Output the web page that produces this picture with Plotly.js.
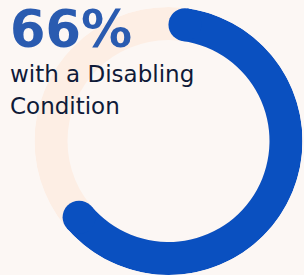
<!DOCTYPE html>
<html>
<head>
<meta charset="utf-8">
<script src="https://cdn.plot.ly/plotly-3.0.1.min.js"></script>
<style>
  html, body { margin: 0; padding: 0; background: #fcf7f4; }
  #chart { width: 304px; height: 275px; }
</style>
</head>
<body>
<div id="chart"></div>
<script>
// ---- data ----
const categories = ['With a Disabling Condition', 'Without a Disabling Condition'];
const shares = [66, 34];
const headline = '66%';
const captionLines = ['with a Disabling', 'Condition'];

// ---- styling / geometry ----
const W = 304, H = 275;
const outerR = 134, thick = 33, innerR = outerR - thick, midR = outerR - thick / 2;
const cx = 168.5;
const blue = '#0a50c0', peach = '#fdeee4', bg = '#fcf7f4';

const total = shares.reduce((a, b) => a + b, 0);
const spanDeg = shares[0] / total * 360;
const capDeg = (thick / 2) / midR * 180 / Math.PI;
const bodySpan = spanDeg - 2 * capDeg;

const traces = [
  { type: 'barpolar', name: categories[1], r: [thick], base: [innerR], theta: [180], width: [360],
    marker: { color: peach, line: { width: 0 } }, hoverinfo: 'skip' },
  { type: 'barpolar', name: categories[0], r: [thick], base: [innerR], theta: [capDeg + bodySpan / 2], width: [bodySpan],
    marker: { color: blue, line: { width: 0 } }, hoverinfo: 'skip' },
  { type: 'scatterpolar', mode: 'markers', name: categories[0] + ' caps', r: [midR, midR], theta: [capDeg, spanDeg - capDeg],
    marker: { color: blue, size: thick, line: { width: 0 } }, hoverinfo: 'skip' }
];

const captionY = [74, 106];
const annotations = [
  { text: '<b>' + headline + '</b>', xref: 'paper', yref: 'paper', x: 8 / W, y: 1 - 29 / H,
    xanchor: 'left', yanchor: 'middle', showarrow: false, align: 'left',
    font: { family: 'DejaVu Sans', size: 51, color: '#2a5bb0' } }
].concat(captionLines.map((t, i) => ({
    text: t, xref: 'paper', yref: 'paper', x: 8 / W, y: 1 - captionY[i] / H,
    xanchor: 'left', yanchor: 'middle', showarrow: false, align: 'left',
    font: { family: 'DejaVu Sans', size: 23, color: '#0f1a38' } })));

const layout = {
  width: W, height: H,
  margin: { l: 0, r: 0, t: 0, b: 0 },
  paper_bgcolor: bg, plot_bgcolor: bg,
  showlegend: false,
  polar: {
    domain: { x: [(cx - outerR) / W, (cx + outerR) / W], y: [0, (2 * outerR) / H] },
    bgcolor: 'rgba(0,0,0,0)',
    radialaxis: { range: [0, outerR], visible: false, showgrid: false, showline: false, ticks: '' },
    angularaxis: { visible: false, rotation: 90, direction: 'clockwise', showgrid: false, showline: false, ticks: '' }
  },
  annotations: annotations
};

Plotly.newPlot('chart', traces, layout, { displayModeBar: false, staticPlot: true });
</script>
</body>
</html>
